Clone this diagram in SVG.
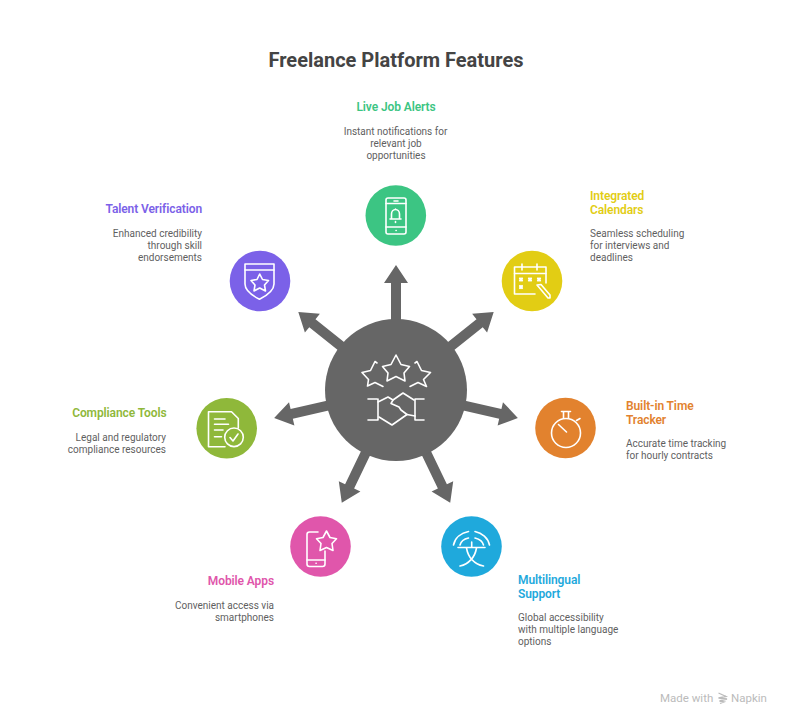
<svg xmlns="http://www.w3.org/2000/svg" width="792" height="726" viewBox="0 0 792 726">
<defs>
<path id="arrow" d="M0 -5 H107 V-12 L125 0 L107 12 V5 H0 Z" fill="#666"/>
</defs>
<style>
text{font-family:Roboto,"Liberation Sans",sans-serif}
.t{font-size:20px;font-weight:700;fill:#444}
.h{font-size:12px;font-weight:600;letter-spacing:-.1px}
.d{font-size:10px;fill:#5f5f5f}
.e{text-anchor:end}
.m{text-anchor:middle}
.i{fill:none;stroke:#fff;stroke-width:1.6;stroke-linecap:round;stroke-linejoin:round}
.x{stroke-width:2.2}
</style>
<rect width="792" height="726" fill="#fff"/>
<text class="t m" x="396" y="67">Freelance Platform Features</text>
<g id="connectors">
<use href="#arrow" transform="translate(396 390) rotate(-90)"/>
<use href="#arrow" transform="translate(396 390) rotate(-38.6)"/>
<use href="#arrow" transform="translate(396 390) rotate(12.9)"/>
<use href="#arrow" transform="translate(396 390) rotate(64.3)"/>
<use href="#arrow" transform="translate(396 390) rotate(115.7)"/>
<use href="#arrow" transform="translate(396 390) rotate(167.1)"/>
<use href="#arrow" transform="translate(396 390) rotate(218.6)"/>
</g>
<g id="hub">
<circle cx="396" cy="390" r="71" fill="#666"/>
<g class="i">
<path d="M396 355 L401 364.500 L409.500 366.500 L404 373 L405 381 L396 376.500 L387 381 L388 373 L382.500 366.500 L391 364.500 Z"/>
<path d="M377 363 L375 361.500 L370.500 370.500 L362 372.500 L368.500 379.500 L367.500 386 L375 382.500 L383 386.500"/>
<path d="M415 363 L417 361.500 L421.500 370.500 L430.500 372.500 L423.500 379.500 L426.500 386.500 L418 382.500 L410 386.500"/>
<path d="M368 399 H377 M378 399 V420 M368 420 H377 M424 399 H415 V420 H424 "/>
<path d="M378 402 L388 397 L393 400 L391 403.500 L399 407 L401 410 L407 414.500 L392 425 L379 417"/>
<path d="M393 400 L403 393 L414 400 M407 414.500 L415 416"/>
</g>
</g>
<g id="live-job-alerts">
<circle cx="395.800" cy="215.500" r="30.300" fill="#3cc583"/>
<g class="i">
<rect x="386" y="198" width="20" height="36" rx="2"/>
<path d="M386 203.500 H406 M386 227 H406 M394 201 H398 M396 230.500 H396.200"/>
<path d="M390 219 H401 M391.500 219 V214 A4 4.500 0 0 1 399.500 214 V219 M395.500 209 V209.500 M395.500 221.500 V222.500"/>
</g>
<text class="h m" x="396" y="111" fill="#3cc583">Live Job Alerts</text>
<text class="d m" x="395.500" y="135">Instant notifications for</text>
<text class="d m" x="396" y="147">relevant job</text>
<text class="d m" x="396" y="159">opportunities</text>
</g>
<g id="integrated-calendars">
<circle cx="532" cy="281" r="30.300" fill="#e2cd14"/>
<g class="i">
<path d="M535 294 H514.500 V267 H546 V283"/>
<path d="M514.500 273.500 H546 M522 264 V270 M537 264 V270"/>
<g class="x">
<path d="M520 278.500 L522 280.500 M522 278.500 L520 280.500 M529 278.500 L531 280.500 M531 278.500 L529 280.500 M538 278.500 L540 280.500 M540 278.500 L538 280.500 M520 286 L522 288 M522 286 L520 288"/>
</g>
<path d="M537 285 L548 298 L550 298 M541 284.500 L550 295 L550 298 M537 285 L541 284.500"/>
</g>
<text class="h" x="590" y="200" fill="#e2cd14">Integrated</text>
<text class="h" x="590" y="214" fill="#e2cd14">Calendars</text>
<text class="d" x="590" y="237">Seamless scheduling</text>
<text class="d" x="590" y="249">for interviews and</text>
<text class="d" x="590" y="261">deadlines</text>
</g>
<g id="built-in-time-tracker">
<circle cx="565.500" cy="428" r="30.300" fill="#e2822e"/>
<g class="i">
<circle cx="566" cy="433" r="14.500"/>
<path d="M561.500 411.500 H570.500 M563.500 411.500 V418 M568.500 411.500 V418 M576.500 420.500 L580 418.500 M558.500 424.500 L566.500 432"/>
</g>
<text class="h" x="626" y="410" fill="#e2822e">Built-in Time</text>
<text class="h" x="626" y="424" fill="#e2822e">Tracker</text>
<text class="d" x="626" y="447">Accurate time tracking</text>
<text class="d" x="626" y="459">for hourly contracts</text>
</g>
<g id="multilingual-support">
<circle cx="471.500" cy="546.500" r="30.300" fill="#1fa9dc"/>
<g class="i">
<path d="M458 547.500 H485 M471.700 542 V547.500 M476.500 548 C475 557 469 564 460 566 M466.500 548 C468 557 474 564 483.500 566"/>
<path d="M453.500 545 C455 538 461 533 468.500 531.500 M460 545 C461 541 464 539 468.500 538 M489.500 545 C488 538 482 533 475 531.500 M483.500 545 C482.500 541 479 539 475 538"/>
</g>
<text class="h" x="518" y="584" fill="#1fa9dc">Multilingual</text>
<text class="h" x="518" y="598" fill="#1fa9dc">Support</text>
<text class="d" x="518" y="621">Global accessibility</text>
<text class="d" x="518" y="633">with multiple language</text>
<text class="d" x="518" y="645">options</text>
</g>
<g id="mobile-apps">
<circle cx="320.500" cy="546.500" r="30.300" fill="#e056ab"/>
<g class="i">
<path d="M318 532 H309.500 Q307 532 307 534.500 V564 Q307 566.500 309.500 566.500 H322.500 Q325 566.500 325 564 V551"/>
<path d="M307 560 H325 M316 563.300 H316.200"/>
<path d="M326.500 531 L330 537.500 L336.500 538.800 L332 543.500 L333 550.500 L326.500 547.500 L320 550.500 L321 543.500 L316.500 538.800 L323 537.500 Z"/>
</g>
<text class="h e" x="274" y="585" fill="#e056ab">Mobile Apps</text>
<text class="d e" x="274" y="609">Convenient access via</text>
<text class="d e" x="274" y="621">smartphones</text>
</g>
<g id="compliance-tools">
<circle cx="226.700" cy="428.300" r="30.300" fill="#8fb83a"/>
<g class="i">
<path d="M225 446.700 H208.500 V411.700 H231.500 L238.300 418.500 V428"/>
<path d="M214.500 419 H225 M214.500 424.300 H228.500 M214.500 430 H223 M214.500 436.700 H221.500"/>
<circle cx="234" cy="437.300" r="9.300"/>
<path d="M230 437.500 L233 441 L238 434"/>
</g>
<text class="h e" x="166.500" y="417" fill="#8fb83a">Compliance Tools</text>
<text class="d e" x="166" y="441">Legal and regulatory</text>
<text class="d e" x="166" y="453">compliance resources</text>
</g>
<g id="talent-verification">
<circle cx="260" cy="281" r="30.300" fill="#7b61e8"/>
<g class="i">
<path d="M245 264 H274 V284 C274 291 266 296 259.500 299.300 C253 296 245 291 245 284 Z"/>
<path d="M245 270 H274"/>
<path d="M259.700 274 L262.500 279.500 L268.500 280.500 L264.500 285 L265.500 291 L259.700 288 L254 291 L255 285 L251 280.500 L257 279.500 Z"/>
</g>
<text class="h e" x="202" y="213" fill="#7b61e8">Talent Verification</text>
<text class="d e" x="202" y="237">Enhanced credibility</text>
<text class="d e" x="202" y="249">through skill</text>
<text class="d e" x="202" y="261">endorsements</text>
</g>
<g id="watermark">
<text x="660" y="702" font-size="11.500" fill="#bbb">Made with</text>
<path d="M718.500 693 L726 696.500 L718.500 698 L727 699 L719.500 701 L724 702 L720 703.500" fill="none" stroke="#bbb" stroke-width="1.300"/>
<text x="731" y="702" font-size="11.500" fill="#bbb">Napkin</text>
</g>
</svg>
